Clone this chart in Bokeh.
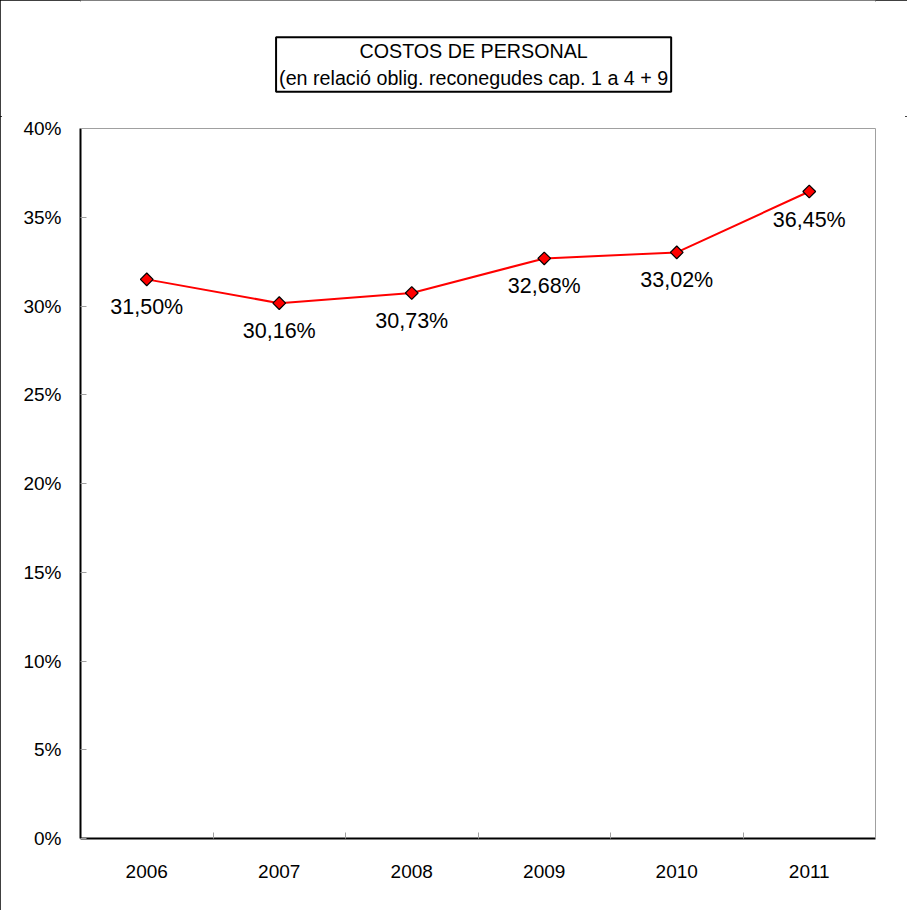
import math
from bokeh.plotting import figure
from bokeh.layouts import column
from bokeh.models import Range1d, FixedTicker, ColumnDataSource, Label
from bokeh.core.properties import value
from bokeh.embed import file_html
from bokeh.resources import INLINE

years = ["2006", "2007", "2008", "2009", "2010", "2011"]
values = [31.50, 30.16, 30.73, 32.68, 33.02, 36.45]
point_labels = ["31,50%", "30,16%", "30,73%", "32,68%", "33,02%", "36,45%"]
y_ticks = [0, 5, 10, 15, 20, 25, 30, 35, 40]
y_tick_labels = ["0%", "5%", "10%", "15%", "20%", "25%", "30%", "35%", "40%"]
title_lines = ["COSTOS DE PERSONAL", "(en relació oblig. reconegudes cap. 1 a 4 + 9"]

FONT = "Liberation Sans"
W, H_TOP, H_MAIN = 907, 116, 794

# ---- header strip holding the boxed title ----
top = figure(width=W, height=H_TOP, output_backend="svg", toolbar_location=None,
             x_range=Range1d(0, W), y_range=Range1d(0, H_TOP),
             x_axis_location=None, y_axis_location=None,
             min_border=0, min_border_left=0, min_border_right=0,
             min_border_top=0, min_border_bottom=0)
top.grid.visible = False
top.outline_line_color = None
top.background_fill_color = "white"
top.border_fill_color = "white"
top.add_layout(Label(x=448.5, y=H_TOP - 64, text="\n".join(title_lines),
                     text_align="center", text_baseline="middle", text_font=FONT,
                     text_font_size="19.7px", text_color="black", text_line_height=1.2,
                     border_line_color="black", border_line_width=2,
                     background_fill_color="white", padding=3))

# ---- main chart ----
xs = [i + 0.5 for i in range(len(years))]
src = ColumnDataSource(dict(x=xs, y=values, lab=point_labels))

p = figure(width=W, height=H_MAIN, output_backend="svg", toolbar_location=None,
           x_range=Range1d(0, len(years)), y_range=Range1d(0, 40),
           min_border_left=80, min_border_right=32, min_border_top=12, min_border_bottom=72)
p.background_fill_color = "white"
p.border_fill_color = "white"
p.outline_line_color = "#a0a0a0"
p.outline_line_width = 1
p.xgrid.visible = False
p.ygrid.visible = False

# x axis
p.xaxis.ticker = FixedTicker(ticks=xs, minor_ticks=[1, 2, 3, 4, 5, 6])
p.xaxis.major_label_overrides = {x: y for x, y in zip(xs, years)}
p.xaxis.major_tick_line_color = None
p.xaxis.minor_tick_in = 6
p.xaxis.minor_tick_out = 0
p.xaxis.minor_tick_line_color = "#a0a0a0"
p.xaxis.axis_line_color = "black"
p.xaxis.axis_line_width = 2
p.xaxis.major_label_text_font = FONT
p.xaxis.major_label_text_font_size = "19px"
p.xaxis.major_label_text_color = "black"
p.xaxis.major_label_standoff = 20

# y axis
p.yaxis.ticker = FixedTicker(ticks=y_ticks, minor_ticks=[])
p.yaxis.major_label_overrides = {t: l for t, l in zip(y_ticks, y_tick_labels)}
p.yaxis.major_tick_in = 6
p.yaxis.major_tick_out = 0
p.yaxis.major_tick_line_color = "#a0a0a0"
p.yaxis.minor_tick_line_color = None
p.yaxis.axis_line_color = "black"
p.yaxis.axis_line_width = 2
p.yaxis.major_label_text_font = FONT
p.yaxis.major_label_text_font_size = "19px"
p.yaxis.major_label_text_color = "black"
p.yaxis.major_label_standoff = 19

p.line("x", "y", source=src, line_color="red", line_width=2)
p.scatter("x", "y", source=src, marker="square", angle=math.pi / 4, size=9,
          fill_color="red", line_color="black", line_width=1.2)
p.text("x", "y", text="lab", source=src, y_offset=28, text_align="center",
       text_baseline="middle", text_font=value(FONT), text_font_size="21.5px",
       text_color="black")

layout = column(top, p, spacing=0)
layout.styles = {"outline": "2px solid black", "outline-offset": "-2px"}

open("out.html", "w").write(file_html(layout, INLINE))
